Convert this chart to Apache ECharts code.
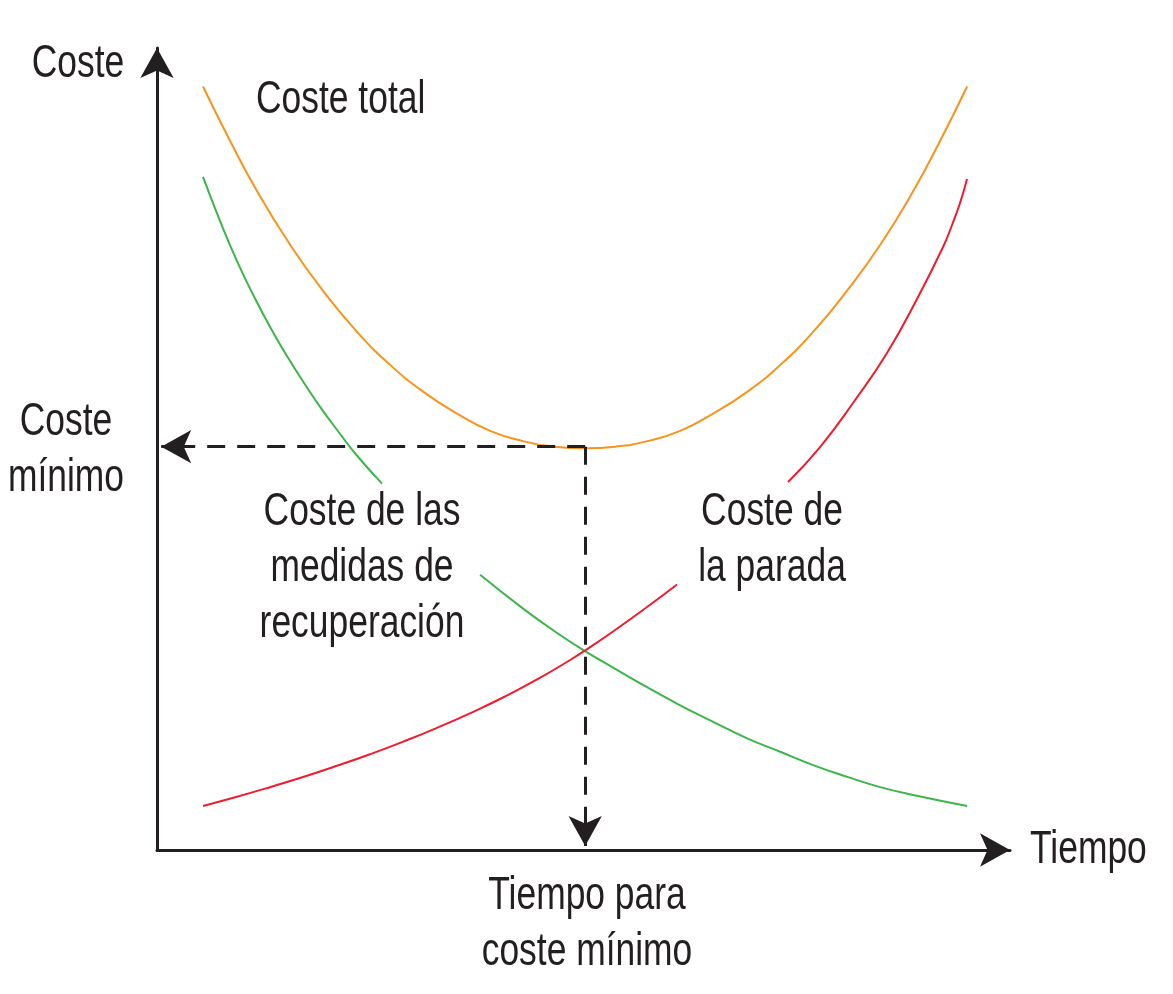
<!DOCTYPE html>
<html>
<head>
<meta charset="utf-8">
<script src="https://cdn.jsdelivr.net/npm/echarts@6/dist/echarts.min.js"></script>
<style>
html,body{margin:0;padding:0;background:#fff;}
#chart{width:1173px;height:994px;}
</style>
</head>
<body>
<div id="chart"></div>
<script>
// Values (x: Tiempo, y: Coste; arbitrary units)
const costeTotal = [
  [5.47, 97.1], [8.68, 90.2], [11.89, 83.8], [15.81, 77.0], [19.74, 71.1], [23.78, 65.9],
  [27.71, 61.7], [31.63, 58.3], [35.67, 55.5], [39.6, 53.3], [43.5, 52.0], [47.3, 51.3],
  [50.9, 51.1], [54.5, 51.3], [58.3, 52.0], [62.2, 53.3], [66.1, 55.5], [70.2, 58.3],
  [74.1, 61.7], [78.0, 65.9], [82.0, 71.1], [86.0, 77.0], [89.9, 83.8], [93.1, 90.2],
  [96.3, 97.1]
];
const costeMedidasA = [
  [5.47, 85.6], [7.49, 80.0], [9.51, 74.9], [11.53, 70.4], [13.56, 66.3], [15.58, 62.6],
  [17.60, 59.2], [19.62, 56.0], [21.64, 53.1], [23.66, 50.3], [26.75, 46.6]
];
const costeMedidasB = [
  [38.41, 35.0], [43.52, 30.7], [47.56, 27.6], [50.89, 25.3], [54.22, 23.2], [58.26, 20.7],
  [62.19, 18.4], [66.11, 16.3], [70.15, 14.2], [74.08, 12.5], [78.0, 10.8], [82.05, 9.3],
  [85.97, 8.0], [89.89, 7.0], [96.31, 5.6]
];
const costeParadaA = [
  [5.47, 5.6], [9.51, 6.77], [13.43, 7.99], [17.36, 9.28], [21.40, 10.71], [25.32, 12.18],
  [29.36, 13.82], [33.29, 15.54], [37.33, 17.45], [41.25, 19.46], [45.29, 21.75],
  [49.21, 24.23], [50.88, 25.37], [54.21, 27.79], [58.25, 30.9], [61.82, 33.77]
];
const costeParadaB = [
  [75.01, 46.8], [78.82, 51.25], [82.74, 56.85], [86.78, 63.21], [90.47, 70.33],
  [93.44, 76.69], [94.51, 79.49], [95.46, 82.28], [96.29, 85.34]
];
const minPoint = [50.9, 51.3];      // tiempo para coste mínimo / coste mínimo
const arrowEndX = 0.5;              // tip of horizontal dashed arrow
const arrowEndY = 0.5;              // tip of vertical dashed arrow
const xMax = 101.4, yMax = 102;

const labels = {
  yName: 'Coste',
  xName: 'Tiempo',
  total: 'Coste total',
  minCost: 'Coste\nmínimo',
  medidas: 'Coste de las\nmedidas de\nrecuperación',
  parada: 'Coste de\nla parada',
  minTime: 'Tiempo para\ncoste mínimo'
};

const INK = '#231f20';
const FONT = "'Liberation Sans', Arial, sans-serif";
const ORANGE = '#f7941d', GREEN = '#3cb54a', RED = '#ed1c2e';

const chart = echarts.init(document.getElementById('chart'), null, {renderer: 'canvas'});

function lineSeries(data, color) {
  return {
    type: 'line', data: data, smooth: 0.5, symbol: 'none', silent: true,
    lineStyle: {color: color, width: 2}, z: 3
  };
}
function txt(text, x, y, align) {
  return {
    type: 'text', x: x, y: y, silent: true, z: 10, scaleX: 0.77, scaleY: 1,
    style: {
      text: text, fill: INK, font: '46px ' + FONT, lineHeight: 56,
      align: align || 'center', verticalAlign: 'middle'
    }
  };
}

chart.setOption({
  animation: false,
  backgroundColor: '#ffffff',
  grid: {left: 157, right: 163, top: 48, bottom: 144, containLabel: false},
  xAxis: {
    type: 'value', min: 0, max: xMax,
    axisLine: {show: true, onZero: false, symbol: ['none', 'arrow'], symbolSize: [25, 30],
      lineStyle: {color: INK, width: 3}},
    axisTick: {show: false}, axisLabel: {show: false}, splitLine: {show: false}
  },
  yAxis: {
    type: 'value', min: 0, max: yMax,
    axisLine: {show: true, onZero: false, symbol: ['none', 'arrow'], symbolSize: [25, 30],
      lineStyle: {color: INK, width: 3}},
    axisTick: {show: false}, axisLabel: {show: false}, splitLine: {show: false}
  },
  series: [
    lineSeries(costeTotal, ORANGE),
    lineSeries(costeMedidasA, GREEN),
    lineSeries(costeMedidasB, GREEN),
    lineSeries(costeParadaA, RED),
    lineSeries(costeParadaB, RED),
    {
      type: 'line', data: [], silent: true,
      markLine: {
        silent: true, animation: false,
        symbol: ['none', 'arrow'], symbolSize: [25, 30],
        label: {show: false},
        lineStyle: {color: INK, width: 3, type: [18, 12]},
        emphasis: {disabled: true},
        data: [
          [{coord: minPoint}, {coord: [arrowEndX, minPoint[1]]}],
          [{coord: minPoint}, {coord: [minPoint[0], arrowEndY]}]
        ]
      },
      z: 2
    }
  ],
  graphic: [
    txt(labels.yName, 78, 64),
    txt(labels.total, 256, 100, 'left'),
    txt(labels.minCost, 66, 450),
    txt(labels.medidas, 362, 568),
    txt(labels.parada, 772, 540),
    txt(labels.minTime, 587, 924),
    txt(labels.xName, 1030, 850, 'left')
  ]
});
</script>
</body>
</html>
